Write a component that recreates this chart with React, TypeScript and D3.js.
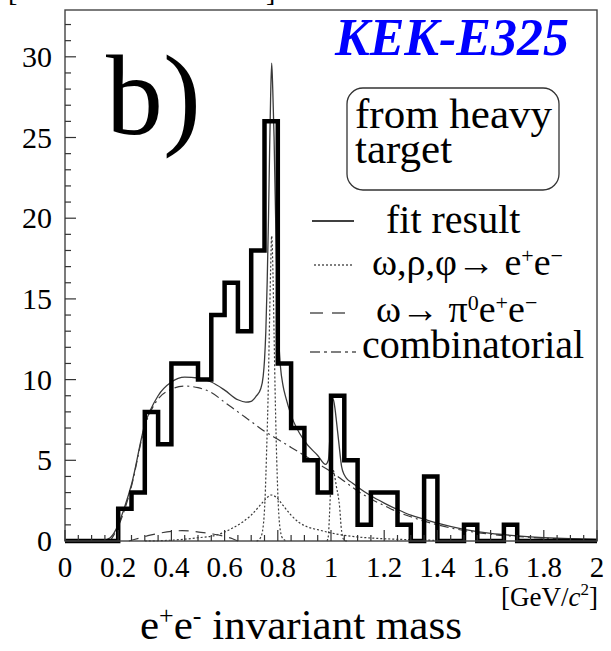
import React from 'react';
import * as d3 from 'd3';

// Histogram: e+e- pairs per 50 MeV/c^2 bin, from 0 to 2 GeV/c^2
const massBinWidth = 0.05;
const binCounts = [
  0, 0, 0, 0, 2, 3, 8, 6, 11, 11,
  10, 14, 16, 13, 18, 26, 11, 7, 5, 3,
  9, 5, 1, 3, 3, 1, 0, 4, 0, 0,
  1, 0, 0, 1, 0, 0, 0, 0, 0, 0,
];

// Total fit
const fitMass = [
  0.14, 0.17, 0.2, 0.22, 0.25, 0.3, 0.35, 0.4, 0.45, 0.5,
  0.55, 0.6, 0.65, 0.68, 0.7, 0.72, 0.735, 0.745, 0.75, 0.755,
  0.76, 0.765, 0.769, 0.773, 0.777, 0.781, 0.786, 0.79, 0.795, 0.8,
  0.805, 0.81, 0.82, 0.83, 0.85, 0.9, 0.95, 0.98, 0.99, 0.995,
  1.0, 1.005, 1.01, 1.015, 1.02, 1.03, 1.04, 1.05, 1.06, 1.08,
  1.1, 1.15, 1.2, 1.25, 1.3, 1.35, 1.4, 1.5, 1.6, 1.7,
  1.8, 1.9, 2.0,
];
const fitYield = [
  0, 0.2, 1.0, 1.9, 3.5, 7.2, 9.0, 9.85, 10.15, 10.1,
  9.85, 9.35, 8.75, 8.6, 8.65, 9.0, 9.4, 10.2, 11.2, 13.0,
  16.0, 20.0, 24.0, 27.5, 29.6, 28.0, 25.0, 21.5, 17.5, 14.0,
  12.0, 10.8, 9.6, 8.9, 7.8, 6.2, 5.3, 4.75, 5.0, 6.2,
  7.8, 8.85, 8.7, 8.2, 7.5, 6.0, 4.6, 4.1, 3.85, 3.6,
  3.35, 2.8, 2.35, 1.95, 1.6, 1.35, 1.1, 0.72, 0.47, 0.32,
  0.21, 0.14, 0.1,
];

// omega -> e+e-
const omegaMass = [0.72, 0.735, 0.745, 0.752, 0.758, 0.763, 0.768, 0.773, 0.777, 0.781, 0.786, 0.791, 0.796, 0.802, 0.809, 0.819, 0.834];
const omegaYield = [0, 0.2, 0.9, 2.6, 5.6, 8.6, 12.8, 16.8, 18.9, 17.2, 12.8, 8.4, 5.0, 2.2, 0.7, 0.15, 0];

// rho -> e+e-
const rhoMass = [0.3, 0.4, 0.5, 0.57, 0.63, 0.67, 0.7, 0.73, 0.755, 0.775, 0.795, 0.82, 0.85, 0.88, 0.91, 0.95, 1.0, 1.05, 1.1, 1.2, 1.3, 1.4];
const rhoYield = [0, 0.05, 0.2, 0.37, 0.8, 1.2, 1.6, 2.15, 2.6, 2.85, 2.7, 2.2, 1.6, 1.15, 0.88, 0.7, 0.5, 0.35, 0.25, 0.14, 0.08, 0.04];

// phi -> e+e-
const phiMass = [0.985, 0.99, 0.994, 0.998, 1.003, 1.008, 1.014, 1.02, 1.027, 1.033, 1.038, 1.043, 1.05, 1.06];
const phiYield = [0, 0.3, 1.5, 3.0, 4.1, 4.4, 4.0, 3.4, 2.8, 2.0, 0.9, 0.3, 0.05, 0];

// omega -> pi0 e+e- (Dalitz)
const dalitzMass = [0.24, 0.28, 0.32, 0.36, 0.4, 0.44, 0.48, 0.52, 0.56, 0.6, 0.63, 0.65];
const dalitzYield = [0, 0.18, 0.36, 0.5, 0.6, 0.64, 0.6, 0.52, 0.42, 0.28, 0.14, 0];

// Combinatorial background
const combMass = [
  0.17, 0.2, 0.25, 0.3, 0.35, 0.4, 0.45, 0.5, 0.55, 0.6,
  0.65, 0.7, 0.75, 0.8, 0.85, 0.9, 0.95, 1.0, 1.05, 1.1,
  1.15, 1.2, 1.25, 1.3, 1.4, 1.5, 1.6, 1.7, 1.8, 1.9, 2.0,
];
const combYield = [
  0, 0.9, 3.4, 7.1, 8.8, 9.4, 9.6, 9.5, 9.2, 8.6,
  8.0, 7.4, 6.8, 6.3, 5.8, 5.3, 4.8, 4.3, 3.7, 3.1,
  2.6, 2.2, 1.8, 1.5, 1.0, 0.65, 0.42, 0.28, 0.18, 0.12, 0.08,
];

const xTickLabels = ['0', '0.2', '0.4', '0.6', '0.8', '1', '1.2', '1.4', '1.6', '1.8', '2'];
const yTickLabels = ['0', '5', '10', '15', '20', '25', '30'];

const SERIF = "'Liberation Serif', 'Times New Roman', serif";
const CURVE = '#3a3a3a';

export default function App() {
  const x = d3.scaleLinear().domain([0, 2]).range([65, 597]);
  const y = d3.scaleLinear().domain([0, 32.9]).range([541, 10]);

  const histPts: [number, number][] = binCounts.map((c, i) => [i * massBinWidth, c] as [number, number]);
  histPts.push([2, binCounts[binCounts.length - 1]]);
  const histPath = d3
    .line<[number, number]>()
    .x((d) => x(d[0]))
    .y((d) => y(d[1]))
    .curve(d3.curveStepAfter)(histPts) as string;

  const smooth = (ms: number[], ys: number[]) =>
    d3
      .line<[number, number]>()
      .x((d) => x(d[0]))
      .y((d) => y(d[1]))
      .curve(d3.curveMonotoneX)(ms.map((m, i) => [m, ys[i]] as [number, number])) as string;

  const xMinor = d3.range(0, 41).map((i) => ({ v: i * 0.05, major: i % 4 === 0 }));
  const yMinor = d3.range(0, 33).map((i) => ({ v: i, major: i % 5 === 0 }));

  // raised small glyph inside a text run
  const sup = (t: string, size: number, shift: number) => (
    <tspan fontSize={size} baselineShift={shift}>{t}</tspan>
  );

  return (
    <svg
      width={611}
      height={651}
      viewBox="0 0 611 651"
      style={{ position: 'absolute', left: 0, top: 0, background: '#fff' }}
      fontFamily={SERIF}
    >
      <rect x={0} y={0} width={611} height={651} fill="#fff" />

      {/* clipped y-axis title remnant */}
      <text x={8} y={1} fontSize={28} fill="#000">[</text>
      <text x={266} y={1} fontSize={28} fill="#000">]</text>

      {/* fit components */}
      <path d={smooth(combMass, combYield)} fill="none" stroke={CURVE} strokeWidth={1.2} strokeDasharray="9,4,2,4" />
      <path d={smooth(dalitzMass, dalitzYield)} fill="none" stroke={CURVE} strokeWidth={1.2} strokeDasharray="10,7" />
      <path d={smooth(rhoMass, rhoYield)} fill="none" stroke={CURVE} strokeWidth={1.2} strokeDasharray="2,2" />
      <path d={smooth(omegaMass, omegaYield)} fill="none" stroke={CURVE} strokeWidth={1.2} strokeDasharray="2,2" />
      <path d={smooth(phiMass, phiYield)} fill="none" stroke={CURVE} strokeWidth={1.2} strokeDasharray="2,2" />
      <path d={smooth(fitMass, fitYield)} fill="none" stroke={CURVE} strokeWidth={1.3} />

      {/* histogram */}
      <path d={histPath} fill="none" stroke="#000" strokeWidth={4.5} strokeLinejoin="miter" />

      {/* frame */}
      <rect x={65} y={10} width={532} height={531} fill="none" stroke="#444" strokeWidth={1.4} />

      {/* ticks */}
      {xMinor.map((t) => (
        <line key={'xt' + t.v} x1={x(t.v)} x2={x(t.v)} y1={541} y2={541 - (t.major ? 11 : 6)} stroke="#333" strokeWidth={1.2} />
      ))}
      {yMinor.map((t) => (
        <line key={'yt' + t.v} x1={65} x2={65 + (t.major ? 11 : 6)} y1={y(t.v)} y2={y(t.v)} stroke="#333" strokeWidth={1.2} />
      ))}

      {/* tick labels */}
      {xTickLabels.map((l) => (
        <text key={'xl' + l} x={x(+l)} y={577} fontSize={29} textAnchor="middle" fill="#000">{l}</text>
      ))}
      {yTickLabels.map((l) => (
        <text key={'yl' + l} x={52} y={y(+l) + 10} fontSize={30} textAnchor="end" fill="#000">{l}</text>
      ))}

      {/* axis unit and title */}
      <text x={598} y={606} fontSize={27} textAnchor="end" fill="#000">
        [GeV/<tspan fontStyle="italic">c</tspan>
        {sup('2', 17, 11)}]
      </text>
      <text x={140} y={639} fontSize={43} fill="#000">
        e{sup('+', 26, 15)}e{sup('-', 26, 15)} invariant mass
      </text>

      {/* panel label and experiment name */}
      <text x={106} y={134} fontSize={114} fill="#000">b)</text>
      <text x={335} y={55} fontSize={52} fontWeight="bold" fontStyle="italic" fill="#0000ff">KEK-E325</text>

      {/* target box */}
      <rect x={347} y={88} width={212} height={102} rx={16} ry={16} fill="none" stroke="#333" strokeWidth={1.3} />
      <text x={355} y={128} fontSize={43} fill="#000">from heavy</text>
      <text x={355} y={163} fontSize={43} fill="#000">target</text>

      {/* legend */}
      <line x1={312} x2={354} y1={221} y2={221} stroke="#000" strokeWidth={1.4} />
      <text x={386} y={233} fontSize={40} fill="#000">fit result</text>

      <line x1={314} x2={353} y1={265} y2={265} stroke="#000" strokeWidth={1.2} strokeDasharray="2,2" />
      <text x={372} y={275} fontSize={38} fill="#000">
        ω,ρ,φ→ e{sup('+', 22, 12)}e{sup('−', 22, 12)}
      </text>

      <line x1={310} x2={353} y1={313} y2={313} stroke="#000" strokeWidth={1.2} strokeDasharray="13,9" />
      <text x={376} y={322} fontSize={38} fill="#000">
        ω→ π{sup('0', 22, 12)}e{sup('+', 22, 12)}e{sup('−', 22, 12)}
      </text>

      <line x1={310} x2={356} y1={352} y2={352} stroke="#000" strokeWidth={1.2} strokeDasharray="10,4,3,4" />
      <text x={362} y={358} fontSize={40} fill="#000">combinatorial</text>
    </svg>
  );
}
